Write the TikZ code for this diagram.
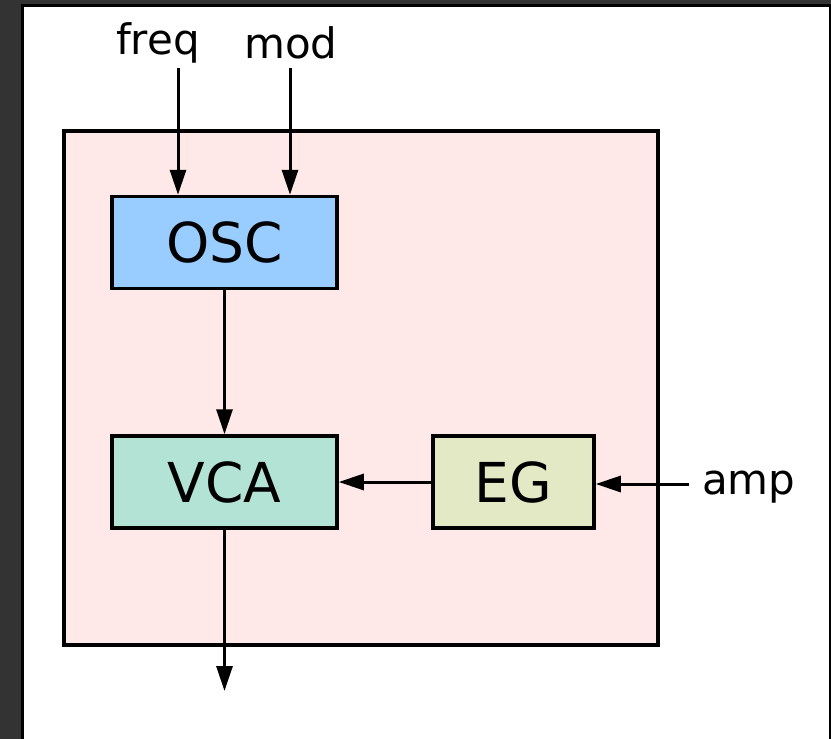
\documentclass[tikz,border=0pt]{standalone}
\usepackage{fontspec}
\setmainfont{DejaVu Sans}
\usetikzlibrary{arrows.meta}
\definecolor{frame}{HTML}{333333}
\definecolor{bodyfill}{HTML}{FFE8E8}
\definecolor{oscfill}{HTML}{99CCFF}
\definecolor{vcafill}{HTML}{B3E3D5}
\definecolor{egfill}{HTML}{E3E8C5}
\tikzset{
  block/.style={draw=black, line width=3.5pt, minimum width=225pt, minimum height=92pt,
    inner sep=0pt, text depth=0pt, font=\fontsize{55}{55}\selectfont},
  portlabel/.style={inner sep=0pt, font=\fontsize{42}{42}\selectfont},
  wire/.style={line width=3pt, -{Triangle[length=25pt,width=16pt]}}
}
\begin{document}
\begin{tikzpicture}[x=1pt,y=-1pt]
  % window background and page
  \fill[frame] (0,0) rectangle (831,739);
  \useasboundingbox (0,0) rectangle (831,739);
  \draw[fill=white, line width=3pt] (22,5) rectangle (830,750);
  % enclosing module
  \draw[fill=bodyfill, line width=4.5pt] (64,131) rectangle (658,645);
  % blocks
  \node[block, fill=oscfill] (osc) at (224.5,242.5) {OSC};
  \node[block, fill=vcafill] (vca) at (224.5,482) {VCA};
  \node[block, fill=egfill, minimum width=161pt] (eg) at (513.5,482) {EG};
  % external ports
  \node[portlabel] (freq) at (158,43) {freq};
  \node[portlabel] (mod) at (291,43) {mod};
  \node[portlabel, anchor=west] (amp) at (702,487) {amp};
  \coordinate (freqin) at (178,68);
  \coordinate (modin) at (290,68);
  \coordinate (ampin) at (689,484);
  \coordinate (out) at (224.5,691);
  % signal flow
  \draw[wire] (freqin) -- (freqin |- osc.north);
  \draw[wire] (modin) -- (modin |- osc.north);
  \draw[wire] (osc.south) -- (vca.north);
  \draw[wire] (ampin) -- (ampin -| eg.east);
  \draw[wire] (eg.west) -- (vca.east);
  \draw[wire] (vca.south) -- (out);
\end{tikzpicture}
\end{document}
